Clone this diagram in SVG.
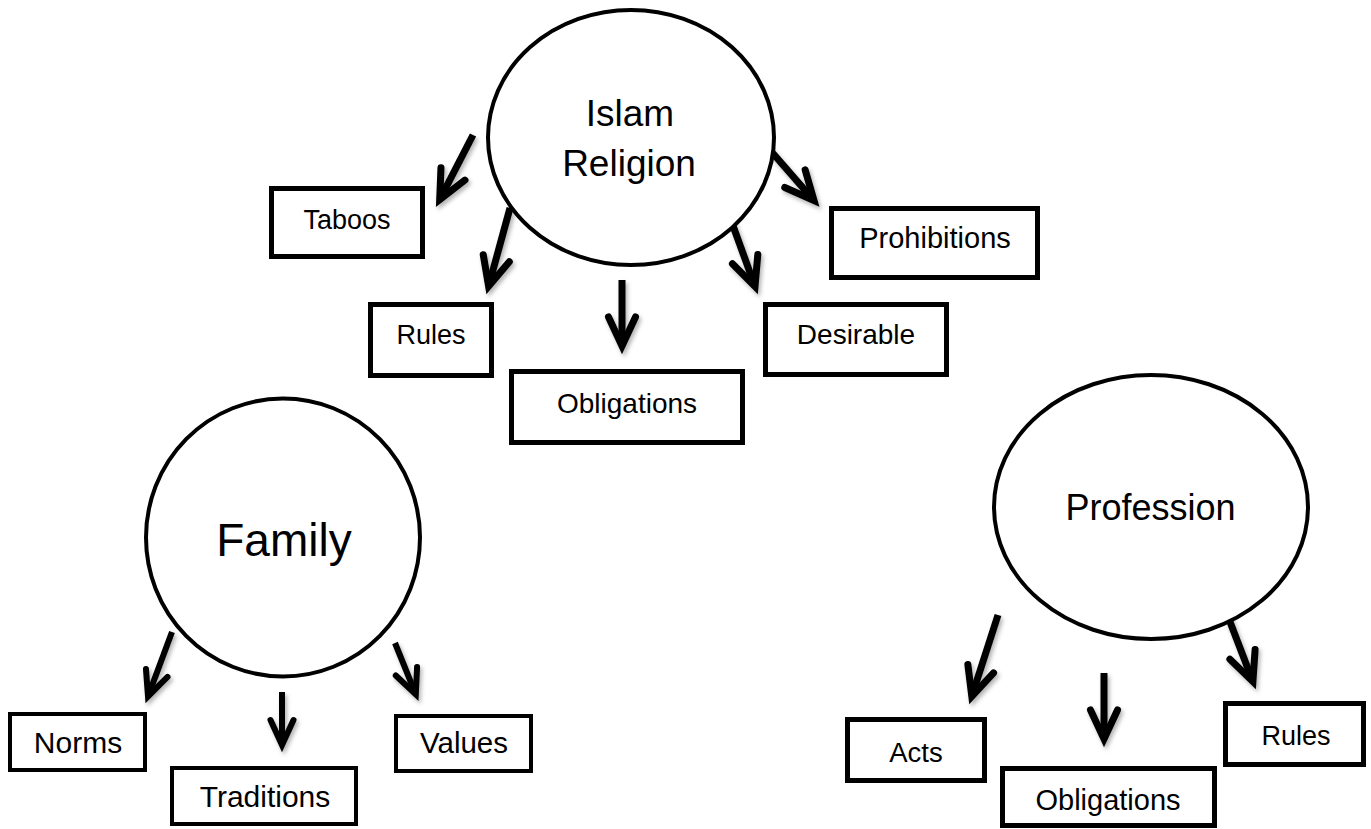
<svg xmlns="http://www.w3.org/2000/svg" width="1371" height="829" viewBox="0 0 1371 829">
  <style>
    .hub { fill: #fff; stroke: #000; stroke-width: 4; }
    .box { fill: #fff; stroke: #000; stroke-width: 5; }
    .box.thin { stroke-width: 4; }
    .lbl { font-family: "Liberation Sans", Arial, sans-serif; fill: #000; text-anchor: middle; }
    .arrow { stroke: #000; stroke-width: 7; fill: none; stroke-linecap: butt; marker-end: url(#head); }
    .arrow.sm { stroke-width: 6; marker-end: url(#headSm); }
  </style>
  <defs>
    <filter id="shade" x="-30%" y="-30%" width="160%" height="160%">
      <feDropShadow dx="2" dy="3" stdDeviation="2" flood-color="#000" flood-opacity="0.3"/>
    </filter>
    <marker id="head" markerUnits="userSpaceOnUse" orient="auto" overflow="visible" markerWidth="1" markerHeight="1" refX="0" refY="0">
      <path d="M -29,-13.5 L 0,0 L -29,13.5" fill="none" stroke="#000" stroke-width="7" stroke-linejoin="miter" stroke-linecap="round"/>
    </marker>
    <marker id="headSm" markerUnits="userSpaceOnUse" orient="auto" overflow="visible" markerWidth="1" markerHeight="1" refX="0" refY="0">
      <path d="M -25,-11.5 L 0,0 L -25,11.5" fill="none" stroke="#000" stroke-width="6" stroke-linejoin="miter" stroke-linecap="round"/>
    </marker>
  </defs>

  <rect width="1371" height="829" fill="#fff"/>

  <!-- arrows from each hub to its boxes -->
  <g id="connectors" filter="url(#shade)">
    <line class="arrow" x1="473" y1="135" x2="439.7" y2="199.7"/>
    <line class="arrow" x1="510" y1="208" x2="488.6" y2="286.2"/>
    <line class="arrow" x1="622" y1="280" x2="622" y2="346"/>
    <line class="arrow" x1="732" y1="223" x2="755" y2="286.4"/>
    <line class="arrow" x1="770" y1="150" x2="814" y2="200.5"/>

    <line class="arrow sm" x1="172" y1="632" x2="148" y2="696.4"/>
    <line class="arrow sm" x1="282" y1="692" x2="282" y2="745"/>
    <line class="arrow sm" x1="395" y1="643" x2="415.8" y2="694.4"/>

    <line class="arrow" x1="998" y1="615" x2="971.8" y2="696.3"/>
    <line class="arrow" x1="1104" y1="673" x2="1104" y2="739"/>
    <line class="arrow" x1="1227" y1="614" x2="1252.9" y2="681.4"/>
  </g>

  <!-- Islam Religion cluster -->
  <g id="islam">
    <ellipse class="hub" cx="631" cy="137.5" rx="143" ry="127.5"/>
    <text class="lbl" x="630" y="126" font-size="37">Islam</text>
    <text class="lbl" x="629" y="176" font-size="37">Religion</text>
  </g>
  <g id="taboos">
    <rect class="box" x="271.5" y="188.5" width="151" height="68"/>
    <text class="lbl" x="347" y="229" font-size="27">Taboos</text>
  </g>
  <g id="islam-rules">
    <rect class="box" x="370.5" y="304.5" width="121" height="71"/>
    <text class="lbl" x="431" y="344" font-size="27">Rules</text>
  </g>
  <g id="islam-obligations">
    <rect class="box" x="511.5" y="371.5" width="231" height="71"/>
    <text class="lbl" x="627" y="413" font-size="28">Obligations</text>
  </g>
  <g id="desirable">
    <rect class="box" x="765.5" y="304.5" width="181" height="70"/>
    <text class="lbl" x="856" y="344" font-size="28">Desirable</text>
  </g>
  <g id="prohibitions">
    <rect class="box" x="831.5" y="208.5" width="206" height="69"/>
    <text class="lbl" x="935" y="248" font-size="29">Prohibitions</text>
  </g>

  <!-- Family cluster -->
  <g id="family">
    <ellipse class="hub" cx="283" cy="537.5" rx="137" ry="139" stroke-width="3"/>
    <text class="lbl" x="284" y="556" font-size="46">Family</text>
  </g>
  <g id="norms">
    <rect class="box thin" x="10" y="714" width="135" height="56"/>
    <text class="lbl" x="78" y="753" font-size="30">Norms</text>
  </g>
  <g id="traditions">
    <rect class="box thin" x="172" y="768" width="184" height="56"/>
    <text class="lbl" x="265" y="807" font-size="30">Traditions</text>
  </g>
  <g id="values">
    <rect class="box thin" x="396" y="716" width="135" height="55"/>
    <text class="lbl" x="464" y="753" font-size="29.5">Values</text>
  </g>

  <!-- Profession cluster -->
  <g id="profession">
    <ellipse class="hub" cx="1151" cy="507" rx="157" ry="132"/>
    <text class="lbl" x="1150.5" y="520" font-size="36">Profession</text>
  </g>
  <g id="acts">
    <rect class="box" x="847.5" y="719.5" width="137" height="61"/>
    <text class="lbl" x="916" y="762" font-size="27.5">Acts</text>
  </g>
  <g id="profession-obligations">
    <rect class="box" x="1002.5" y="768.5" width="212" height="57"/>
    <text class="lbl" x="1108" y="810" font-size="29">Obligations</text>
  </g>
  <g id="profession-rules">
    <rect class="box" x="1225.5" y="703.5" width="138" height="61"/>
    <text class="lbl" x="1296" y="745" font-size="27">Rules</text>
  </g>
</svg>
